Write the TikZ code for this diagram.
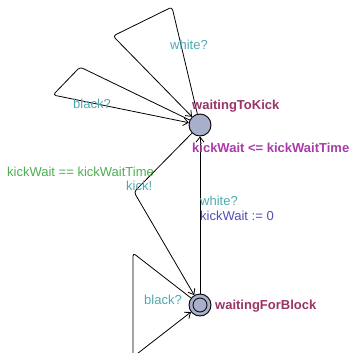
\documentclass[tikz,border=0pt]{standalone}
\usepackage{fontspec}
\setmainfont{Liberation Sans}
\usetikzlibrary{arrows.meta}
\definecolor{locname}{HTML}{993366}
\definecolor{syncc}{HTML}{4DAAB0}
\definecolor{guardc}{HTML}{4CAF50}
\definecolor{invc}{HTML}{AA3AAA}
\definecolor{updc}{HTML}{4F4FBB}
\definecolor{nodefill}{HTML}{A8AFCB}
\tikzset{
  loc/.style={circle,draw=black,fill=nodefill,line width=0.9bp,minimum size=22bp,inner sep=0pt},
  edge/.style={draw=black,line width=0.8bp,rounded corners=3bp,-{Straight Barb[length=5bp,width=8bp]}},
  lbl/.style={anchor=base west,inner sep=0pt,font=\fontsize{13bp}{15bp}\selectfont},
  namelbl/.style={lbl,text=locname,font=\fontsize{13bp}{15bp}\selectfont\bfseries},
  synclbl/.style={lbl,text=syncc},
  guardlbl/.style={lbl,text=guardc},
  invlbl/.style={lbl,text=invc,font=\fontsize{13bp}{15bp}\selectfont\bfseries},
  updlbl/.style={lbl,text=updc}
}
\begin{document}
\begin{tikzpicture}[x=1bp,y=-1bp]
\useasboundingbox (0,0) rectangle (351,353);
\clip (0,0) rectangle (351,353);
\node[loc] (K) at (200,125) {};
\node[loc] (B) at (200,305) {};
\node[circle,draw=black,line width=0.8bp,minimum size=14bp,inner sep=0pt] (Bi) at (200,305) {};
% nails
\coordinate (w1) at (113,36);
\coordinate (w2) at (172,7);
\coordinate (b1) at (53,95);
\coordinate (b2) at (80,67);
\coordinate (k1) at (134,192);
\coordinate (c1) at (133,253);
\coordinate (c2) at (133,357);
% edges
\draw[edge] (K) -- (w2) -- (w1) -- (K);
\draw[edge] (K) -- (b2) -- (b1) -- (K);
\draw[edge] (K) -- (k1) -- (B);
\draw[edge] (B) -- (K);
\draw[edge] (B) -- (c1) -- (c2) -- (B);
% labels
\node[namelbl] (nK) at (192,109) {waitingToKick};
\node[invlbl] (iK) at (192,152.5) {kickWait <= kickWaitTime};
\node[namelbl] (nB) at (215,309) {waitingForBlock};
\node[synclbl] (s1) at (170,49) {white?};
\node[synclbl] (s2) at (73,108) {black?};
\node[guardlbl] (g1) at (7,176) {kickWait == kickWaitTime};
\node[synclbl] (s3) at (126,190.5) {kick!};
\node[synclbl] (s4) at (200,205) {white?};
\node[updlbl] (u1) at (200,220) {kickWait := 0};
\node[synclbl] (s5) at (144,304) {black?};
\end{tikzpicture}
\end{document}
